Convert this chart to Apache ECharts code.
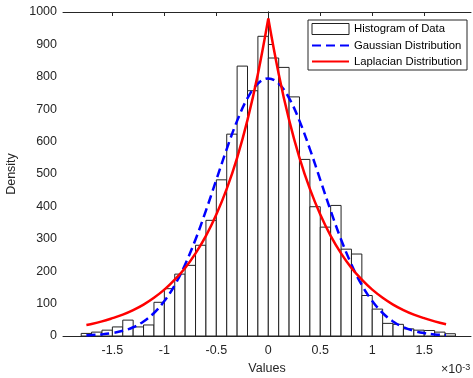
<!DOCTYPE html>
<html>
<head>
<meta charset="utf-8">
<title>Histogram with fitted distributions</title>
<script src="https://cdn.jsdelivr.net/npm/echarts@6/dist/echarts.min.js"></script>
<style>
  html, body { margin: 0; padding: 0; background: #fff; }
  #main { width: 473px; height: 378px; }
</style>
</head>
<body>
<div id="main"></div>
<script>
// values are in units of 1e-3 (the axis shows the x10^-3 multiplier)
var binEdges = [-1.8, -1.7, -1.6, -1.5, -1.4, -1.3, -1.2, -1.1, -1.0, -0.9, -0.8, -0.7, -0.6,
  -0.5, -0.4, -0.3, -0.2, -0.1, 0, 0.1, 0.2, 0.3, 0.4, 0.5, 0.6, 0.7, 0.8, 0.9, 1.0,
  1.1, 1.2, 1.3, 1.4, 1.5, 1.6, 1.7, 1.8];
var histCounts = [8, 12, 18, 28, 49, 28, 34, 104, 146, 191, 218, 280, 357, 482, 623, 833, 757, 925,
  858, 829, 738, 545, 399, 336, 403, 268, 253, 125, 83, 39, 36, 22, 18, 17, 12, 7];

var curveX = [-1.75, -1.7, -1.6, -1.5, -1.4, -1.3, -1.2, -1.1, -1.0, -0.9, -0.8, -0.7, -0.6, -0.5,
  -0.4, -0.3, -0.2, -0.1, 0, 0.1, 0.2, 0.3, 0.4, 0.5, 0.6, 0.7, 0.8, 0.9, 1.0, 1.1, 1.2,
  1.3, 1.4, 1.5, 1.6, 1.71];
var gaussY = [2, 3, 5, 9, 16, 27, 45, 71, 108, 157, 221, 298, 387, 482, 577, 664, 734, 779,
  795, 779, 734, 664, 577, 482, 387, 298, 221, 157, 108, 71, 45, 27, 16, 9, 5, 3];
var laplaceY = [34, 37, 45, 55, 66, 80, 97, 118, 143, 174, 210, 255, 309, 375, 454, 550, 667, 809,
  980, 809, 667, 550, 454, 375, 309, 255, 210, 174, 143, 118, 97, 80, 66, 55, 45, 36];

var xTicks = [-1.5, -1, -0.5, 0, 0.5, 1, 1.5];

var fontFam = '"Liberation Sans", Arial, Helvetica, sans-serif';
var axisCol = '#262626';

var histData = [];
for (var i = 0; i < histCounts.length; i++) {
  histData.push([binEdges[i], binEdges[i + 1], histCounts[i]]);
}
var gaussData = [], lapLeft = [], lapRight = [];
for (var j = 0; j < curveX.length; j++) {
  gaussData.push([curveX[j], gaussY[j]]);
  if (curveX[j] <= 0) lapLeft.push([curveX[j], laplaceY[j]]);
  if (curveX[j] >= 0) lapRight.push([curveX[j], laplaceY[j]]);
}

var chart = echarts.init(document.getElementById('main'));

var xBase = {
  type: 'value', min: -1.975, max: 1.95,
  axisLine: { show: true, onZero: false, lineStyle: { color: axisCol, width: 1 } },
  axisTick: { show: true, inside: true, length: 4, customValues: xTicks, lineStyle: { color: axisCol } },
  splitLine: { show: false }
};
var yBase = {
  type: 'value', min: 0, max: 1000, interval: 100,
  axisLine: { show: true, lineStyle: { color: axisCol, width: 1 } },
  axisTick: { show: true, inside: true, length: 4, lineStyle: { color: axisCol } },
  splitLine: { show: false }
};

// legend line entries: keep the line, hide the marker
var noMarker = { color: 'rgba(0,0,0,0)', borderWidth: 0, opacity: 0 };

chart.setOption({
  animation: false,
  backgroundColor: '#fff',
  textStyle: { fontFamily: fontFam },
  grid: { left: 63, right: 2, top: 12, bottom: 42, outerBoundsMode: 'none' },
  legend: {
    orient: 'vertical',
    left: 308, top: 20,
    padding: [3, 5, 3, 3],
    itemWidth: 37, itemHeight: 11, itemGap: 5,
    backgroundColor: '#fff',
    borderColor: axisCol, borderWidth: 1, borderRadius: 0,
    textStyle: { fontFamily: fontFam, fontSize: 11.3, color: '#000' },
    data: [
      { name: 'Histogram of Data', icon: 'rect', itemStyle: { color: '#fff', borderColor: '#222', borderWidth: 1 } },
      { name: 'Gaussian Distribution', itemStyle: noMarker },
      { name: 'Laplacian Distribution', itemStyle: noMarker }
    ]
  },
  xAxis: [
    Object.assign({}, xBase, {
      position: 'bottom',
      name: 'Values', nameLocation: 'middle', nameGap: 25,
      nameTextStyle: { fontFamily: fontFam, fontSize: 12.5, color: axisCol },
      axisLabel: { show: true, customValues: xTicks, margin: 8, fontFamily: fontFam, fontSize: 12.5, color: axisCol }
    }),
    Object.assign({}, xBase, { position: 'top', axisLabel: { show: false } })
  ],
  yAxis: [
    Object.assign({}, yBase, {
      position: 'left',
      name: 'Density', nameLocation: 'middle', nameGap: 43,
      nameTextStyle: { fontFamily: fontFam, fontSize: 12.5, color: axisCol },
      axisLabel: {
        show: true, margin: 6, fontFamily: fontFam, fontSize: 12.5, color: axisCol,
        formatter: function (v) { return String(v); }
      }
    }),
    Object.assign({}, yBase, { position: 'right', axisLabel: { show: false } })
  ],
  graphic: [{
    type: 'text', left: 441, top: 363,
    style: {
      text: '{b|×10}{s|-3}',
      rich: {
        b: { fontFamily: fontFam, fontSize: 12.5, fill: axisCol },
        s: { fontFamily: fontFam, fontSize: 9, fill: axisCol, verticalAlign: 'top' }
      }
    }
  }],
  series: [
    {
      name: 'Histogram of Data',
      type: 'custom',
      z: 1,
      encode: { x: [0, 1], y: 2 },
      data: histData,
      renderItem: function (params, api) {
        var p0 = api.coord([api.value(0), 0]);
        var p1 = api.coord([api.value(1), api.value(2)]);
        return {
          type: 'rect',
          shape: { x: p0[0], y: p1[1], width: p1[0] - p0[0], height: p0[1] - p1[1] },
          style: { fill: '#fff', stroke: '#222', lineWidth: 1 }
        };
      }
    },
    {
      name: 'Gaussian Distribution',
      type: 'line', z: 3,
      data: gaussData, smooth: 0.4, symbol: 'none',
      lineStyle: { color: '#0000ff', width: 2.5, type: [9, 5] },
      itemStyle: { color: '#0000ff' }
    },
    {
      name: 'Laplacian Distribution',
      type: 'line', z: 4,
      data: lapLeft, smooth: 0.4, symbol: 'none',
      lineStyle: { color: '#ff0000', width: 2.5 },
      itemStyle: { color: '#ff0000' }
    },
    {
      name: 'Laplacian Distribution',
      type: 'line', z: 4,
      data: lapRight, smooth: 0.4, symbol: 'none',
      lineStyle: { color: '#ff0000', width: 2.5 },
      itemStyle: { color: '#ff0000' }
    }
  ]
});
</script>
</body>
</html>
